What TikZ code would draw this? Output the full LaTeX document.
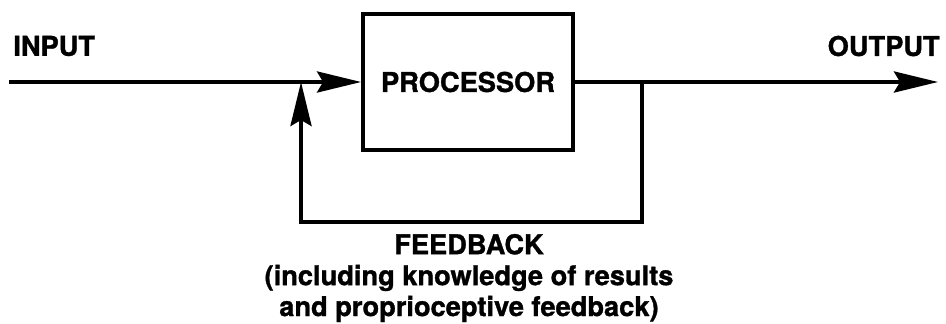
\documentclass[tikz,border=0pt]{standalone}
\usepackage{fontspec}
\setmainfont{TeX Gyre Heros}[BoldFeatures={FakeBold=1.2}]
\usetikzlibrary{arrows.meta}

\tikzset{
  lbl/.style={font=\fontsize{15.5}{17.6}\selectfont\bfseries, inner sep=0pt},
  flow/.style={line width=2.2pt, line join=miter},
  bigtip/.style={-{Stealth[length=0.88cm, width=0.42cm, inset=0.12cm]}}
}

\begin{document}
\begin{tikzpicture}
          \useasboundingbox (0,0) rectangle (18.92,6.46);

          \node [draw, flow, minimum width=4.2cm, minimum height=2.72cm, lbl] (proc) at (9.36,4.82) {PROCESSOR};

          \node [lbl, anchor=west] (in) at (0.26,5.54) {INPUT};
          \node [lbl, anchor=east] (out) at (18.80,5.54) {OUTPUT};
          \node [lbl, align=center] (fb) at (9.38,0.90) {FEEDBACK\\(including knowledge of results\\and proprioceptive feedback)};

          \coordinate (start) at (0.18,4.82);
          \coordinate (join) at (6.02,4.82);
          \coordinate (tap) at (12.84,4.82);
          \coordinate (end) at (18.76,4.82);
          \coordinate (fbR) at (12.84,2.02);
          \coordinate (fbL) at (6.02,2.02);

          \draw [flow, bigtip] (start) -- (proc.west);
          \draw [flow, bigtip] (proc.east) -- (end);
          % feedback loop
          \draw [flow, bigtip] (tap) -- (fbR) -- (fbL) -- (join);
\end{tikzpicture}
\end{document}
